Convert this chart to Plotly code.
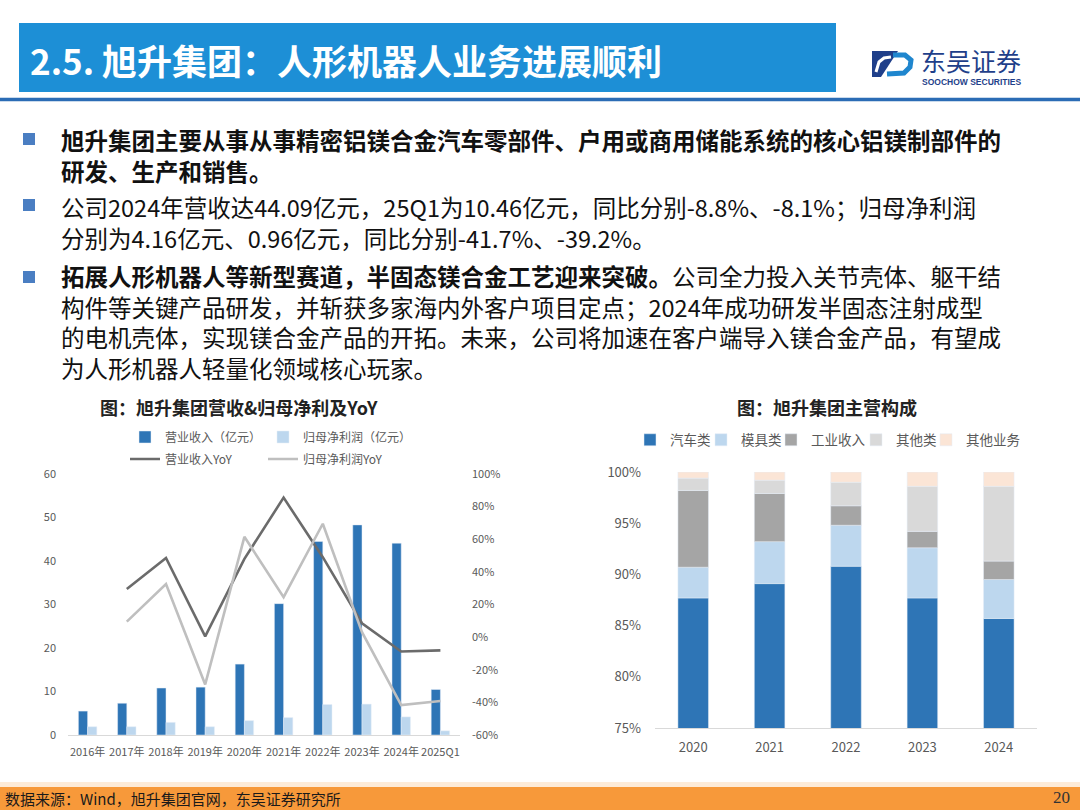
import plotly.graph_objects as go

W, H = 1080, 810


def X(px):
    return px / W


def Y(py):
    return 1 - py / H


# ---------------- data ----------------
years_left = ["2016年", "2017年", "2018年", "2019年", "2020年",
              "2021年", "2022年", "2023年", "2024年", "2025Q1"]
revenue = [5.5, 7.3, 10.8, 11.0, 16.3, 30.2, 44.5, 48.3, 44.09, 10.46]
net_profit = [1.9, 1.9, 2.9, 1.9, 3.3, 4.0, 7.0, 7.1, 4.16, 0.96]
revenue_yoy = [None, 29.5, 48.5, 0.5, 48.0, 85.5, 49.0, 8.5, -8.8, -8.1]
profit_yoy = [None, 9.5, 32.5, -29.0, 61.5, 24.5, 69.5, 3.0, -41.7, -39.2]

years_right = ["2020", "2021", "2022", "2023", "2024"]
auto_share = [87.7, 89.1, 90.8, 87.7, 85.7]
mold_share = [3.0, 4.1, 4.0, 4.9, 3.8]
industrial_share = [7.5, 4.7, 1.9, 1.6, 1.8]
other_cat_share = [1.2, 1.3, 2.3, 4.4, 7.3]
other_biz_share = [0.6, 0.8, 1.0, 1.4, 1.4]

left_y_ticks = [0, 10, 20, 30, 40, 50, 60]
left_y2_ticks = [-60, -40, -20, 0, 20, 40, 60, 80, 100]
right_y_ticks = [75, 80, 85, 90, 95, 100]

FONT = "Noto Sans CJK SC"
GRAY = "#595959"
C_REV = "#2E75B6"
C_NP = "#BDD7EE"
C_REV_YOY = "#6B6B6B"
C_NP_YOY = "#BFBFBF"

fig = go.Figure()

# ---------------- left chart ----------------
bw = 0.235
fig.add_trace(go.Bar(x=years_left, y=revenue, name="营业收入（亿元）",
                     marker_color=C_REV, width=bw, offset=-bw,
                     xaxis="x", yaxis="y", legend="legend"))
fig.add_trace(go.Bar(x=years_left, y=net_profit, name="归母净利润（亿元）",
                     marker_color=C_NP, width=bw, offset=0,
                     xaxis="x", yaxis="y", legend="legend2"))
fig.add_trace(go.Scatter(x=years_left, y=revenue_yoy, name="营业收入YoY",
                         mode="lines", line=dict(color=C_REV_YOY, width=2.6),
                         xaxis="x", yaxis="y2", legend="legend3"))
fig.add_trace(go.Scatter(x=years_left, y=profit_yoy, name="归母净利润YoY",
                         mode="lines", line=dict(color=C_NP_YOY, width=2.6),
                         xaxis="x", yaxis="y2", legend="legend4"))

# ---------------- right chart ----------------
series_right = [
    ("汽车类", auto_share, "#2E75B6"),
    ("模具类", mold_share, "#BDD7EE"),
    ("工业收入", industrial_share, "#A5A5A5"),
    ("其他类", other_cat_share, "#D9D9D9"),
    ("其他业务", other_biz_share, "#FBE5D6"),
]
base = [0.0] * len(years_right)
for i, (name, vals, col) in enumerate(series_right):
    fig.add_trace(go.Bar(x=years_right, y=vals, base=list(base), name=name,
                         marker_color=col, width=0.4,
                         xaxis="x3", yaxis="y3", legend=f"legend{5 + i}"))
    base = [b + v for b, v in zip(base, vals)]

# ---------------- legends ----------------
legends = {}
left_leg = [(125, 437), (263, 437), (125, 459), (263, 459)]
for i, (lx, ly) in enumerate(left_leg):
    key = "legend" if i == 0 else f"legend{i + 1}"
    legends[key] = dict(x=X(lx), y=Y(ly), xanchor="left", yanchor="middle",
                        orientation="h", bgcolor="rgba(0,0,0,0)",
                        font=dict(family=FONT, size=12, color=GRAY))
right_leg_sq = [650, 721, 791, 876, 946]
for i, sx in enumerate(right_leg_sq):
    legends[f"legend{5 + i}"] = dict(x=X(sx - 20), y=Y(440), xanchor="left",
                                     yanchor="middle", orientation="h",
                                     bgcolor="rgba(0,0,0,0)",
                                     font=dict(family=FONT, size=13.5, color=GRAY))

axis_font = dict(family=FONT, size=11, color=GRAY)

layout = dict(
    width=W, height=H,
    margin=dict(l=0, r=0, t=0, b=0, pad=0, autoexpand=False),
    paper_bgcolor="white", plot_bgcolor="rgba(0,0,0,0)",
    barmode="overlay",
    font=dict(family=FONT, color=GRAY),
    showlegend=True,
    xaxis=dict(domain=[X(68), X(460)], type="category", showline=True,
               linecolor="#D9D9D9", linewidth=1, showgrid=False, ticks="",
               tickfont=axis_font, ticklabelstandoff=7, anchor="y",
               automargin=False),
    yaxis=dict(domain=[Y(735), Y(474)], range=[0, 60], tickvals=left_y_ticks,
               showgrid=False, zeroline=False, showline=False,
               tickfont=axis_font, ticklabelstandoff=11, anchor="x",
               automargin=False),
    yaxis2=dict(domain=[Y(735), Y(474)], range=[-60, 100],
                tickmode="array", tickvals=left_y2_ticks,
                ticktext=[f"{v}%" for v in left_y2_ticks], overlaying="y",
                side="right", showgrid=False, zeroline=False, showline=False,
                tickfont=axis_font, ticklabelstandoff=11, anchor="x",
                automargin=False),
    xaxis3=dict(domain=[X(655), X(1037)], type="category", showline=True,
                linecolor="#D9D9D9", linewidth=1, showgrid=False, ticks="",
                tickfont=dict(family=FONT, size=13, color=GRAY),
                ticklabelstandoff=7, anchor="y3", automargin=False),
    yaxis3=dict(domain=[Y(728), Y(472)], range=[75, 100],
                tickmode="array", tickvals=right_y_ticks,
                ticktext=[f"{v}%" for v in right_y_ticks], showgrid=False,
                zeroline=False, showline=False,
                tickfont=dict(family=FONT, size=13, color=GRAY),
                ticklabelstandoff=13, anchor="x3", automargin=False),
)
layout.update(legends)
fig.update_layout(**layout)

# ---------------- slide decorations ----------------
shapes = []
ann = []

# header box & rule
shapes.append(dict(type="rect", xref="paper", yref="paper",
                   x0=X(19), x1=X(836), y0=Y(92), y1=Y(23),
                   fillcolor="#1D8FD6", line=dict(width=0), layer="below"))
shapes.append(dict(type="line", xref="paper", yref="paper",
                   x0=0, x1=1, y0=Y(99.5), y1=Y(99.5),
                   line=dict(color="#2B6CB5", width=3.5)))
ann.append(dict(text="<b>2.5. 旭升集团：人形机器人业务进展顺利</b>",
                x=X(28), y=Y(59), xref="paper", yref="paper",
                xanchor="left", yanchor="middle", showarrow=False,
                font=dict(family=FONT, size=35, color="white")))


def path(points, close=True):
    s = "M " + " L ".join(f"{X(a):.5f},{Y(b):.5f}" for a, b in points)
    return s + (" Z" if close else "")


# logo
shapes.append(dict(type="path", xref="paper", yref="paper",
                   path=path([(872, 51), (898, 51), (881, 77), (872, 77)]),
                   fillcolor="#1F3F8A", line=dict(width=0)))
shapes.append(dict(type="path", xref="paper", yref="paper",
                   path=path([(876, 72), (879, 62), (884, 58), (891, 57)], close=False),
                   line=dict(color="white", width=3)))
shapes.append(dict(type="path", xref="paper", yref="paper",
                   path=path([(893, 55), (905, 55), (911, 60), (910, 67),
                              (904, 73), (887, 74)], close=False),
                   line=dict(color="#1F86CE", width=5)))
ann.append(dict(text="东吴证券", x=X(919), y=Y(59.5), xref="paper", yref="paper",
                xanchor="left", yanchor="middle", showarrow=False,
                font=dict(family=FONT, size=25, color="#1F3F8A")))
ann.append(dict(text="<b>SOOCHOW SECURITIES</b>", x=X(920), y=Y(82),
                xref="paper", yref="paper", xanchor="left", yanchor="middle",
                showarrow=False,
                font=dict(family="Liberation Sans", size=8.5, color="#1F3F8A")))

# bullets
for by in [139, 205, 277]:
    shapes.append(dict(type="rect", xref="paper", yref="paper",
                       x0=X(23), x1=X(35), y0=Y(by + 6), y1=Y(by - 6),
                       fillcolor="#4A7EC2", line=dict(width=0)))

paragraphs = [
    (["<b>旭升集团主要从事从事精密铝镁合金汽车零部件、户用或商用储能系统的核心铝镁制部件的</b>",
      "<b>研发、生产和销售。</b>"], 140),
    (["公司2024年营收达44.09亿元，25Q1为10.46亿元，同比分别-8.8%、-8.1%；归母净利润",
      "分别为4.16亿元、0.96亿元，同比分别-41.7%、-39.2%。"], 207),
    (["<b>拓展人形机器人等新型赛道，半固态镁合金工艺迎来突破。</b>公司全力投入关节壳体、躯干结",
      "构件等关键产品研发，并斩获多家海内外客户项目定点；2024年成功研发半固态注射成型",
      "的电机壳体，实现镁合金产品的开拓。未来，公司将加速在客户端导入镁合金产品，有望成",
      "为人形机器人轻量化领域核心玩家。"], 276),
]
BODY_SIZE = 23.5
LINE_H = BODY_SIZE * 1.3
for lines, first_y in paragraphs:
    center = first_y + LINE_H * (len(lines) - 1) / 2
    ann.append(dict(text="<br>".join(lines), x=X(59), y=Y(center),
                    xref="paper", yref="paper", xanchor="left",
                    yanchor="middle", align="left", showarrow=False,
                    font=dict(family=FONT, size=BODY_SIZE, color="#111111")))

# chart titles
ann.append(dict(text="<b>图：旭升集团营收&归母净利及YoY</b>", x=X(239), y=Y(407),
                xref="paper", yref="paper", xanchor="center", yanchor="middle",
                showarrow=False, font=dict(family=FONT, size=18, color="#222222")))
ann.append(dict(text="<b>图：旭升集团主营构成</b>", x=X(827), y=Y(407),
                xref="paper", yref="paper", xanchor="center", yanchor="middle",
                showarrow=False, font=dict(family=FONT, size=18, color="#222222")))

# footer
shapes.append(dict(type="rect", xref="paper", yref="paper",
                   x0=0, x1=1, y0=Y(787), y1=Y(782),
                   fillcolor="#FDEBD8", line=dict(width=0)))
shapes.append(dict(type="rect", xref="paper", yref="paper",
                   x0=0, x1=1, y0=0, y1=Y(787),
                   fillcolor="#F7993A", line=dict(width=0)))
ann.append(dict(text="数据来源：Wind，旭升集团官网，东吴证券研究所", x=X(3), y=Y(798.5),
                xref="paper", yref="paper", xanchor="left", yanchor="middle",
                showarrow=False, font=dict(family=FONT, size=15, color="#1A1A1A")))
ann.append(dict(text="20", x=X(1072), y=Y(797), xref="paper", yref="paper",
                xanchor="right", yanchor="middle", showarrow=False,
                font=dict(family="Liberation Serif", size=17, color="#333333")))

fig.update_layout(shapes=shapes, annotations=ann)

fig.write_html(
    "out.html",
    config={"displayModeBar": False},
    post_script="document.body.style.margin='0px';"
                "document.body.style.overflow='hidden';",
)
